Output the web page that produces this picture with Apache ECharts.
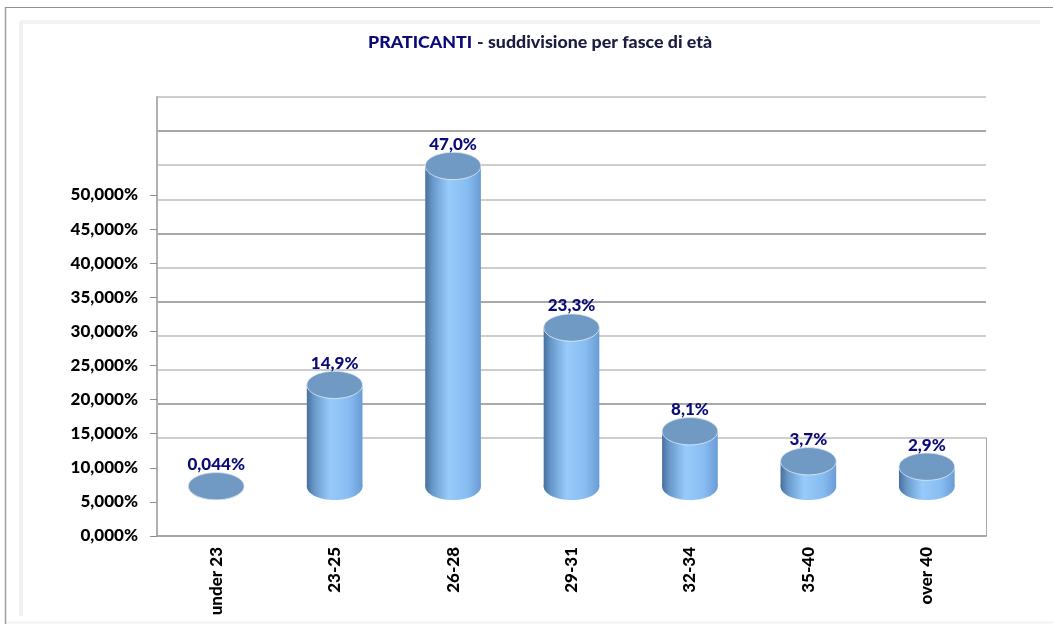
<!DOCTYPE html>
<html>
<head>
<meta charset="utf-8">
<style>
  html, body { margin: 0; padding: 0; background: #fff; }
  #chart { width: 1053px; height: 624px; }
</style>
<script src="https://cdn.jsdelivr.net/npm/echarts@6/dist/echarts.min.js"></script>
</head>
<body>
<div id="chart"></div>
<script>
const categories = ['under 23', '23-25', '26-28', '29-31', '32-34', '35-40', 'over 40'];
const shares = [0.044, 14.9, 47.0, 23.3, 8.1, 3.7, 2.9];
const shareLabels = ['0,044%', '14,9%', '47,0%', '23,3%', '8,1%', '3,7%', '2,9%'];
const tickValues = [0, 5, 10, 15, 20, 25, 30, 35, 40, 45, 50];
const wallHeavyLines = [1, 4, 6, 9];

const font = 'Lato, "Open Sans", sans-serif';
const navy = '#0b0b78';
const labelSize = 17;
const titleSize = 17.8;

const bodyFill = new echarts.graphic.LinearGradient(0, 0, 1, 0, [
  { offset: 0, color: '#47709c' },
  { offset: 0.14, color: '#6a9acd' },
  { offset: 0.42, color: '#98cbfb' },
  { offset: 0.75, color: '#88bdf2' },
  { offset: 1, color: '#6a9cd4' },
]);

function renderCylinder(params, api) {
  const i = api.value(0);
  const top = api.coord([i, api.value(1)]);
  const base = api.coord([i, 0]);
  const rx = api.size([1, 0])[0] * 0.235;
  const ry = rx * 0.49;
  return {
    type: 'group',
    children: [
      { type: 'ellipse', shape: { cx: base[0], cy: base[1], rx: rx, ry: ry }, style: { fill: bodyFill } },
      { type: 'rect', shape: { x: top[0] - rx, y: top[1], width: rx * 2, height: base[1] - top[1] }, style: { fill: bodyFill } },
      { type: 'ellipse', shape: { cx: top[0], cy: top[1], rx: rx, ry: ry }, style: { fill: '#7099c4', stroke: '#e4edf6', lineWidth: 0.8 } },
      {
        type: 'text',
        x: top[0],
        y: top[1] - ry - 8,
        style: { text: shareLabels[i], fill: navy, font: '900 ' + labelSize + 'px ' + font, align: 'center', verticalAlign: 'middle' },
      },
    ],
  };
}

const chart = echarts.init(document.getElementById('chart'));
chart.setOption({
  animation: false,
  backgroundColor: '#fff',
  title: {
    left: 535,
    top: 28,
    textAlign: 'center',
    text: '{a|PRATICANTI} {b|- suddivisione per fasce di età}',
    textStyle: {
      rich: {
        a: { color: navy, fontFamily: font, fontWeight: 900, fontSize: titleSize },
        b: { color: '#1c1c40', fontFamily: font, fontWeight: 900, fontSize: titleSize },
      },
    },
  },
  graphic: [
    { type: 'line', silent: true, shape: { x1: 20, y1: 22, x2: 1040, y2: 22 }, style: { stroke: '#f3f3f3', lineWidth: 4 } },
    { type: 'line', silent: true, shape: { x1: 21, y1: 22, x2: 21, y2: 616 }, style: { stroke: '#f1f1f1', lineWidth: 4 } },
    { type: 'line', silent: true, shape: { x1: 6, y1: 622.5, x2: 1053, y2: 622.5 }, style: { stroke: '#f3f3f3', lineWidth: 2 } },
    { type: 'line', silent: true, shape: { x1: 5, y1: 7.5, x2: 1053, y2: 7.5 }, style: { stroke: '#8f8f8f', lineWidth: 1 } },
    { type: 'line', silent: true, shape: { x1: 5.5, y1: 7, x2: 5.5, y2: 624 }, style: { stroke: '#a0a0a0', lineWidth: 1.5 } },
    { type: 'line', silent: true, shape: { x1: 986.5, y1: 437.5, x2: 986.5, y2: 536 }, style: { stroke: '#a8a8a8', lineWidth: 1 } },
  ],
  grid: [
    { left: 157, right: 67, top: 97, height: 439 },
    { left: 157, right: 67, top: 97, height: 341 },
  ],
  xAxis: [
    {
      type: 'category',
      gridIndex: 0,
      data: categories,
      boundaryGap: true,
      axisLine: { lineStyle: { color: '#a6a6a6', width: 2 } },
      axisTick: { alignWithLabel: false, length: 4, lineStyle: { color: '#8c8c8c' } },
      axisLabel: { rotate: 90, margin: 11, color: '#000', fontFamily: font, fontWeight: 900, fontSize: labelSize },
    },
    { type: 'category', gridIndex: 1, show: false, data: categories },
  ],
  yAxis: [
    {
      // labelled axis, runs past 50% up to the top of the wall
      type: 'value',
      gridIndex: 0,
      min: 0,
      max: 64.37,
      axisLine: { show: true, lineStyle: { color: '#b0b0b0', width: 2 } },
      axisTick: { show: true, length: 7, customValues: tickValues, lineStyle: { color: '#8c8c8c' } },
      axisLabel: {
        customValues: tickValues,
        margin: 19,
        color: '#000',
        fontFamily: font,
        fontWeight: 900,
        fontSize: labelSize,
        formatter: (v) => v.toFixed(3).replace('.', ',') + '%',
      },
      splitLine: { show: false },
    },
    {
      // cylinders stand on a floor above the axis zero
      type: 'value',
      gridIndex: 0,
      min: -7.26,
      max: 57.11,
      show: false,
      splitLine: { show: false },
    },
    {
      // back wall lines
      type: 'value',
      gridIndex: 1,
      min: 0,
      max: 10,
      interval: 1,
      axisLine: { show: false },
      axisTick: { show: false },
      axisLabel: { show: false },
      splitLine: { show: true, lineStyle: { color: '#bdbdbd', width: 1.5 } },
    },
    {
      type: 'value',
      gridIndex: 1,
      min: 0,
      max: 10,
      axisLine: { show: false },
      axisTick: { show: false, customValues: wallHeavyLines },
      axisLabel: { show: false },
      splitLine: { show: true, lineStyle: { color: '#a8a8a8', width: 2 } },
    },
  ],
  series: [
    {
      type: 'custom',
      xAxisIndex: 0,
      yAxisIndex: 1,
      z: 5,
      encode: { x: 0, y: 1 },
      data: shares.map((v, i) => [i, v]),
      renderItem: renderCylinder,
    },
  ],
});
</script>
</body>
</html>
